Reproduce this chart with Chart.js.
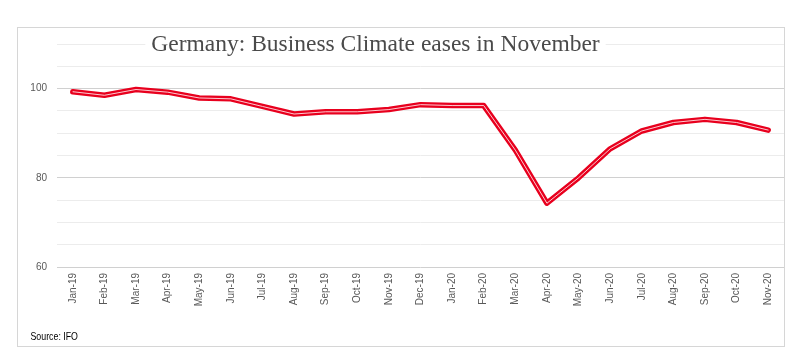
<!DOCTYPE html>
<html>
<head>
<meta charset="utf-8">
<script src="https://cdn.jsdelivr.net/npm/chart.js@4/dist/chart.umd.min.js"></script>
<style>
  html, body { margin: 0; padding: 0; background: #fff; }
  #wrap { width: 812px; height: 364px; position: relative; }
</style>
</head>
<body>
<div id="wrap"><canvas id="ifoChart" width="812" height="364"></canvas></div>
<script>
// data
const months = ["Jan-19","Feb-19","Mar-19","Apr-19","May-19","Jun-19","Jul-19","Aug-19","Sep-19","Oct-19","Nov-19","Dec-19",
  "Jan-20","Feb-20","Mar-20","Apr-20","May-20","Jun-20","Jul-20","Aug-20","Sep-20","Oct-20","Nov-20"];
const climate = [99.3, 98.5, 99.8, 99.2, 97.9, 97.7, 96.0, 94.3, 94.8, 94.8, 95.3, 96.4,
  96.2, 96.2, 86.2, 74.3, 80.0, 86.5, 90.5, 92.4, 93.1, 92.4, 90.7];
const yLabels = [60, 80, 100];
const titleText = "Germany: Business Climate eases in November";
const sourceText = "Source: IFO";

const RED = "rgb(232,0,30)";

// frame, title and source note
const decor = {
  id: "decor",
  beforeDraw(chart) {
    const ctx = chart.ctx;
    ctx.save();
    ctx.fillStyle = "#fff";
    ctx.fillRect(0, 0, chart.width, chart.height);
    ctx.strokeStyle = "#d6d6d6";
    ctx.lineWidth = 1;
    ctx.strokeRect(17.5, 27.5, 767, 319);
    ctx.restore();
  },
  afterDraw(chart) {
    const ctx = chart.ctx;
    ctx.save();
    ctx.font = "23.5px 'Liberation Serif', serif";
    const w = ctx.measureText(titleText).width;
    const cx = 375.5;
    ctx.fillStyle = "#fff";
    ctx.fillRect(cx - w / 2 - 6, 30, w + 12, 26);
    ctx.fillStyle = "#4a4a4a";
    ctx.textAlign = "center";
    ctx.textBaseline = "alphabetic";
    ctx.fillText(titleText, cx, 51);

    // source note, squeezed to look like a narrow face
    ctx.font = "11px 'Liberation Sans', sans-serif";
    ctx.textAlign = "left";
    ctx.fillStyle = "#000";
    ctx.translate(30.5, 340);
    ctx.scale(0.8, 1);
    ctx.fillText(sourceText, 0, 0);
    ctx.restore();
  }
};

const ctx = document.getElementById("ifoChart").getContext("2d");
new Chart(ctx, {
  type: "line",
  data: {
    labels: months,
    datasets: [
      {
        label: "IFO",
        data: climate,
        order: 2,
        borderColor: RED,
        borderWidth: 5.5,
        borderCapStyle: "round",
        borderJoinStyle: "round",
        pointRadius: 0,
        tension: 0,
        fill: false
      },
      {
        label: "IFO inner",
        data: climate,
        order: 1,
        borderColor: "rgb(255,225,228)",
        borderWidth: 0.9,
        borderCapStyle: "round",
        borderJoinStyle: "round",
        pointRadius: 0,
        tension: 0,
        fill: false
      }
    ]
  },
  options: {
    responsive: false,
    animation: false,
    events: [],
    layout: { padding: { left: 0, right: 28, top: 44, bottom: 0 } },
    plugins: {
      legend: { display: false },
      title: { display: false },
      tooltip: { enabled: false }
    },
    scales: {
      x: {
        offset: true,
        grid: { display: false, drawTicks: false },
        border: { display: false },
        ticks: {
          autoSkip: false,
          minRotation: 90,
          maxRotation: 90,
          padding: 6,
          color: "#595959",
          font: { family: "'Liberation Sans', Arial, sans-serif", size: 10 }
        },
        afterFit(scale) { scale.height = 97; }
      },
      y: {
        min: 60,
        max: 110,
        grid: {
          drawTicks: false,
          color: (c) => yLabels.includes(c.tick.value) ? "#d0d0d0" : "#ececec",
          lineWidth: 1
        },
        border: { display: false },
        ticks: {
          stepSize: 5,
          padding: 10,
          color: "#595959",
          font: { family: "'Liberation Sans', Arial, sans-serif", size: 10 },
          callback: (v) => yLabels.includes(v) ? String(v) : ""
        },
        afterFit(scale) { scale.width = 57; }
      }
    }
  },
  plugins: [decor]
});
</script>
</body>
</html>
